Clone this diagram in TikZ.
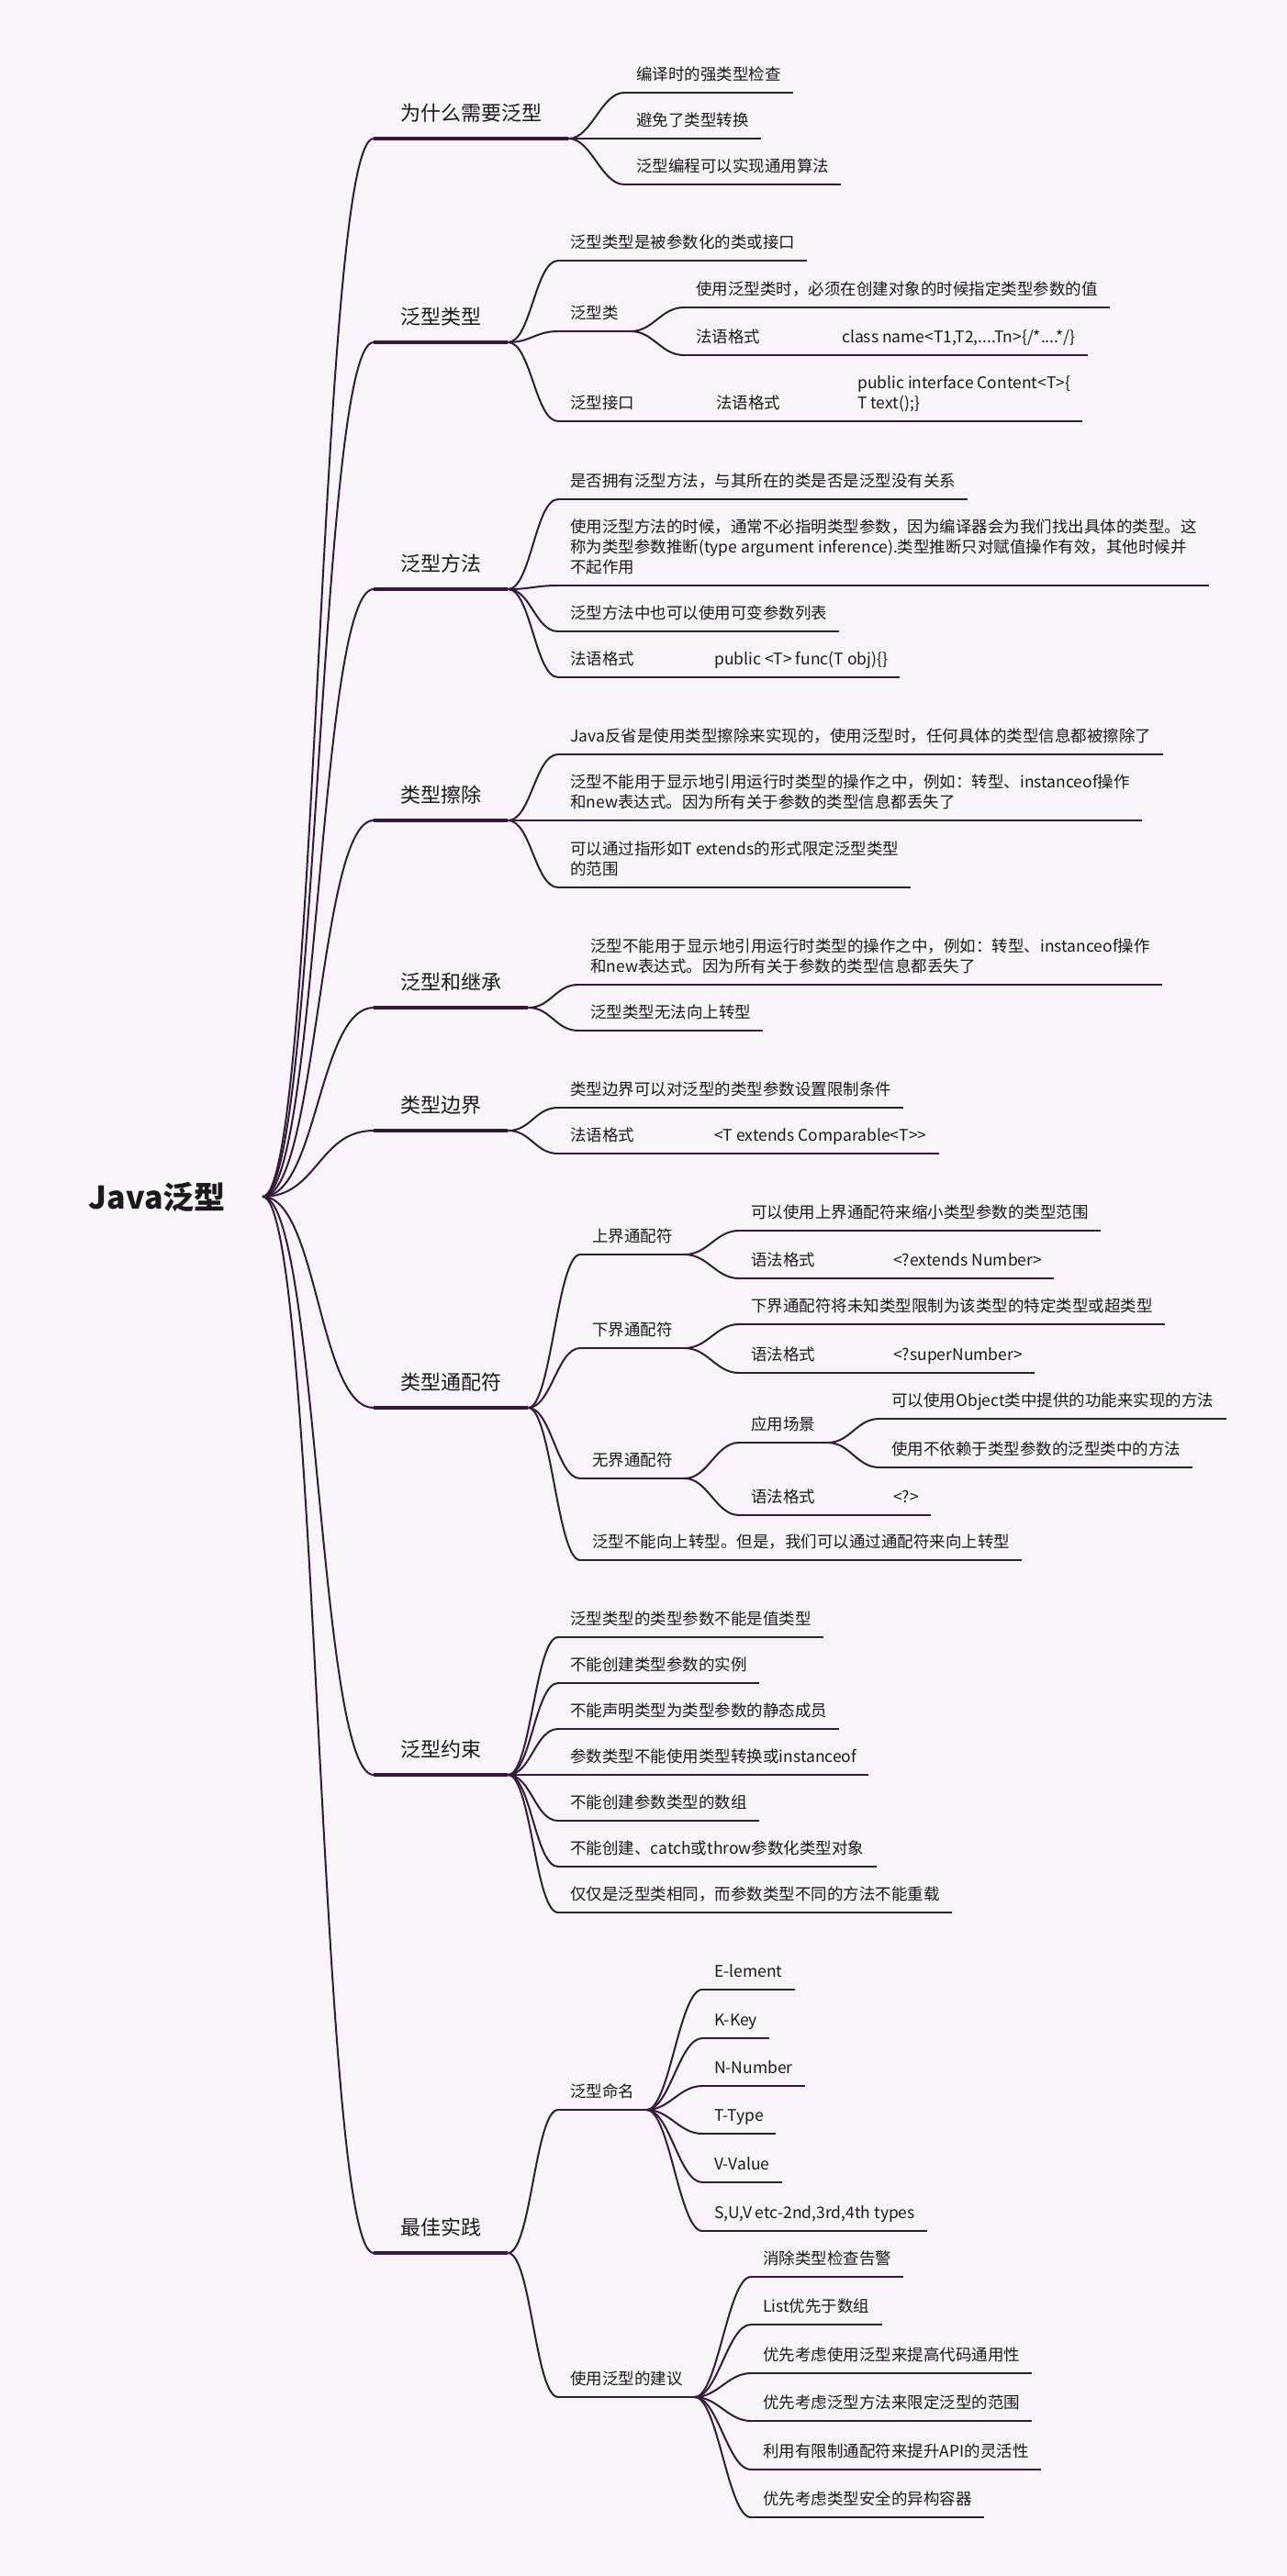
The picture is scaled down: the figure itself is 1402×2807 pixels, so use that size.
\documentclass[tikz,border=0pt]{standalone}
\usepackage{fontspec}
\setmainfont{Noto Sans CJK SC}
\definecolor{bgcol}{HTML}{F8F4F9}
\definecolor{linecol}{HTML}{341A39}
\definecolor{txtcol}{HTML}{1A1A1A}

\begin{document}
\begin{tikzpicture}[x=1pt,y=-1pt,
  conn/.style={draw=linecol,line width=2pt},
  uline/.style={draw=linecol,line width=2.7pt},
  mainline/.style={draw=linecol,line width=3.2pt},
  rootnode/.style={font=\fontsize{34}{40}\selectfont\bfseries,text=txtcol,anchor=east,inner xsep=40pt},
  mainbr/.style={font=\fontsize{22}{28}\selectfont,text=txtcol,anchor=south west,
    inner xsep=29pt,inner ysep=14pt,text depth=5pt,
    append after command={(\tikzlastnode.south west) edge[mainline] (\tikzlastnode.south east)}},
  leaf/.style={font=\fontsize{17.5}{22}\selectfont,text=txtcol,anchor=south west,align=left,
    inner xsep=13pt,inner ysep=9.5pt,text depth=4pt,
    append after command={(\tikzlastnode.south west) edge[uline] (\tikzlastnode.south east)}}]

  \fill[bgcol] (0,0) rectangle (1402,2807);
  \useasboundingbox (0,0) rectangle (1402,2807);

  \node[rootnode] (root) at (286,1304) {Java泛型};

  % main branches
  \node[mainbr] (m1) at (407,151) {为什么需要泛型};
  \node[mainbr] (m2) at (407,373) {泛型类型};
  \node[mainbr] (m3) at (407,642) {泛型方法};
  \node[mainbr] (m4) at (407,894) {类型擦除};
  \node[mainbr] (m5) at (407,1098) {泛型和继承};
  \node[mainbr] (m6) at (407,1232) {类型边界};
  \node[mainbr] (m7) at (407,1534) {类型通配符};
  \node[mainbr] (m8) at (407,1934) {泛型约束};
  \node[mainbr] (m9) at (407,2455) {最佳实践};

  % 为什么需要泛型
  \node[leaf] (a1) at (680,101) {编译时的强类型检查};
  \node[leaf] (a2) at (680,151) {避免了类型转换};
  \node[leaf] (a3) at (680,201) {泛型编程可以实现通用算法};

  % 泛型类型
  \node[leaf] (b1) at (608,284) {泛型类型是被参数化的类或接口};
  \node[leaf] (b2) at (608,361) {泛型类};
  \node[leaf] (b21) at (745,335) {使用泛型类时，必须在创建对象的时候指定类型参数的值};
  \node[leaf] (b22) at (745,387) {法语格式};
  \node[leaf] (b221) at (904,387) {class name<T1,T2,....Tn>\{/*....*/\}};
  \node[leaf] (b3) at (608,459) {泛型接口};
  \node[leaf] (b31) at (767,459) {法语格式};
  \node[leaf] (b311) at (921,459) {public interface Content<T>\{\\T text();\}};

  % 泛型方法
  \node[leaf] (c1) at (608,544) {是否拥有泛型方法，与其所在的类是否是泛型没有关系};
  \node[leaf] (c2) at (608,638) {使用泛型方法的时候，通常不必指明类型参数，因为编译器会为我们找出具体的类型。这\\称为类型参数推断(type argument inference).类型推断只对赋值操作有效，其他时候并\\不起作用};
  \node[leaf] (c3) at (608,688) {泛型方法中也可以使用可变参数列表};
  \node[leaf] (c4) at (608,738) {法语格式};
  \node[leaf] (c41) at (765,738) {public <T> func(T obj)\{\}};

  % 类型擦除
  \node[leaf] (d1) at (608,822) {Java反省是使用类型擦除来实现的，使用泛型时，任何具体的类型信息都被擦除了};
  \node[leaf] (d2) at (608,894) {泛型不能用于显示地引用运行时类型的操作之中，例如：转型、instanceof操作\\和new表达式。因为所有关于参数的类型信息都丢失了};
  \node[leaf] (d3) at (608,967) {可以通过指形如T extends的形式限定泛型类型\\的范围};

  % 泛型和继承
  \node[leaf] (e1) at (630,1073) {泛型不能用于显示地引用运行时类型的操作之中，例如：转型、instanceof操作\\和new表达式。因为所有关于参数的类型信息都丢失了};
  \node[leaf] (e2) at (630,1123) {泛型类型无法向上转型};

  % 类型边界
  \node[leaf] (f1) at (608,1207) {类型边界可以对泛型的类型参数设置限制条件};
  \node[leaf] (f2) at (608,1257) {法语格式};
  \node[leaf] (f21) at (765,1257) {<T extends Comparable<T>{}>};

  % 类型通配符
  \node[leaf] (g1) at (632,1367) {上界通配符};
  \node[leaf] (g11) at (805,1341) {可以使用上界通配符来缩小类型参数的类型范围};
  \node[leaf] (g12) at (805,1393) {语法格式};
  \node[leaf] (g121) at (960,1393) {<?extends Number>};
  \node[leaf] (g2) at (632,1469) {下界通配符};
  \node[leaf] (g21) at (805,1443) {下界通配符将未知类型限制为该类型的特定类型或超类型};
  \node[leaf] (g22) at (805,1496) {语法格式};
  \node[leaf] (g221) at (960,1496) {<?superNumber>};
  \node[leaf] (g3) at (632,1611) {无界通配符};
  \node[leaf] (g31) at (805,1572) {应用场景};
  \node[leaf] (g311) at (958,1546) {可以使用Object类中提供的功能来实现的方法};
  \node[leaf] (g312) at (958,1599) {使用不依赖于类型参数的泛型类中的方法};
  \node[leaf] (g32) at (805,1651) {语法格式};
  \node[leaf] (g321) at (960,1651) {<?>};
  \node[leaf] (g4) at (632,1700) {泛型不能向上转型。但是，我们可以通过通配符来向上转型};

  % 泛型约束
  \node[leaf] (h1) at (608,1784) {泛型类型的类型参数不能是值类型};
  \node[leaf] (h2) at (608,1834) {不能创建类型参数的实例};
  \node[leaf] (h3) at (608,1884) {不能声明类型为类型参数的静态成员};
  \node[leaf] (h4) at (608,1934) {参数类型不能使用类型转换或instanceof};
  \node[leaf] (h5) at (608,1984) {不能创建参数类型的数组};
  \node[leaf] (h6) at (608,2034) {不能创建、catch或throw参数化类型对象};
  \node[leaf] (h7) at (608,2084) {仅仅是泛型类相同，而参数类型不同的方法不能重载};

  % 最佳实践
  \node[leaf] (i1) at (608,2299) {泛型命名};
  \node[leaf] (j1) at (765,2168) {E-lement};
  \node[leaf] (j2) at (765,2221) {K-Key};
  \node[leaf] (j3) at (765,2273) {N-Number};
  \node[leaf] (j4) at (765,2325) {T-Type};
  \node[leaf] (j5) at (765,2378) {V-Value};
  \node[leaf] (j6) at (765,2431) {S,U,V etc-2nd,3rd,4th types};
  \node[leaf] (i2) at (608,2612) {使用泛型的建议};
  \node[leaf] (k1) at (818,2481) {消除类型检查告警};
  \node[leaf] (k2) at (818,2533) {List优先于数组};
  \node[leaf] (k3) at (818,2586) {优先考虑使用泛型来提高代码通用性};
  \node[leaf] (k4) at (818,2638) {优先考虑泛型方法来限定泛型的范围};
  \node[leaf] (k5) at (818,2691) {利用有限制通配符来提升API的灵活性};
  \node[leaf] (k6) at (818,2743) {优先考虑类型安全的异构容器};

  % connectors
  \foreach \m in {m1,m2,m3,m4,m5,m6,m7,m8,m9}
    \draw[conn] (root.east) .. controls +(60,0) and +(-60,0) .. (\m.south west);
  \foreach \p/\c in {m1/a1,m1/a2,m1/a3,m2/b1,m2/b2,m2/b3,b2/b21,b2/b22,b22/b221,b3/b31,b31/b311,
      m3/c1,m3/c2,m3/c3,m3/c4,c4/c41,m4/d1,m4/d2,m4/d3,m5/e1,m5/e2,m6/f1,m6/f2,f2/f21,
      m7/g1,m7/g2,m7/g3,m7/g4,g1/g11,g1/g12,g12/g121,g2/g21,g2/g22,g22/g221,
      g3/g31,g3/g32,g32/g321,g31/g311,g31/g312,
      m8/h1,m8/h2,m8/h3,m8/h4,m8/h5,m8/h6,m8/h7,m9/i1,m9/i2,
      i1/j1,i1/j2,i1/j3,i1/j4,i1/j5,i1/j6,i2/k1,i2/k2,i2/k3,i2/k4,i2/k5,i2/k6}
    \draw[conn] (\p.south east) .. controls +(25,0) and +(-25,0) .. (\c.south west);
\end{tikzpicture}
\end{document}
